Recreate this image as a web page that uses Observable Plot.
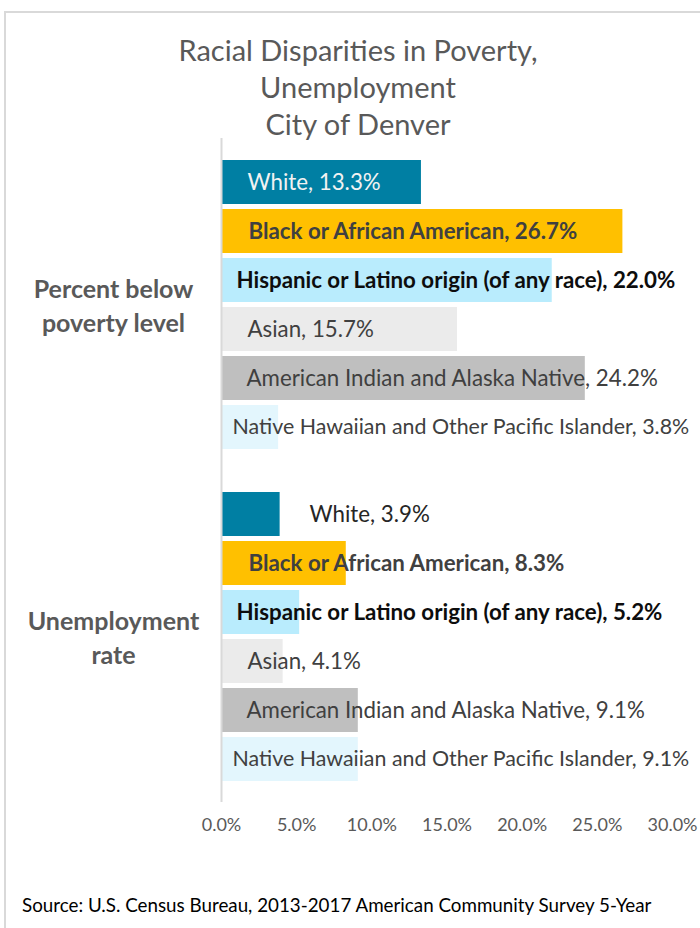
<!DOCTYPE html>
<html><head><meta charset="utf-8">
<script src="https://cdn.jsdelivr.net/npm/d3@7"></script>
<script src="https://cdn.jsdelivr.net/npm/@observablehq/plot@0.6"></script>
<style>
body{margin:0;background:#fff;font-family:Lato, sans-serif;}
#frame{position:absolute;left:4px;top:11px;width:800px;height:1000px;border-left:2px solid #d9d9d9;border-top:2px solid #d9d9d9;}
#title{position:absolute;left:0;width:716px;top:31px;text-align:center;font-size:29px;line-height:37px;color:#595959;}
#chart{position:absolute;left:0;top:138px;}
#source{position:absolute;left:22px;top:893px;font-size:18.8px;color:#000;white-space:nowrap;}
</style></head>
<body>
<div id="frame"></div>
<div id="title">Racial Disparities in Poverty,<br>Unemployment<br>City of Denver</div>
<div id="chart"></div>
<div id="source">Source: U.S. Census Bureau, 2013-2017 American Community Survey 5-Year</div>
<script>
const groups = ["Percent below poverty level", "Unemployment rate"];
const groupLabels = ["Percent below\npoverty level", "Unemployment\nrate"];
const races = ["White", "Black or African American", "Hispanic or Latino origin (of any race)", "Asian", "American Indian and Alaska Native", "Native Hawaiian and Other Pacific Islander"];
const povertyValues = [13.3, 26.7, 22.0, 15.7, 24.2, 3.8];
const unemploymentValues = [3.9, 8.3, 5.2, 4.1, 9.1, 9.1];
const xTicks = [0, 5, 10, 15, 20, 25, 30];

const barColors = ["#007fa3", "#ffc000", "#b9ecfd", "#ebebeb", "#bfbfbf", "#e3f6fd"];
const labelColors = ["#f2f2f2", "#404040", "#0d0d0d", "#404040", "#404040", "#404040"];
const boldLabel = [false, true, true, false, false, false];
const labelDx = [26, 27, 15, 26, 25, 11];
const labelSize = [22.3, 22.3, 22.3, 22.3, 22.3, 21.4];

const seriesValues = [povertyValues, unemploymentValues];
const rows = [];
groups.forEach((g, gi) => races.forEach((r, i) => rows.push({group: g, gi, race: r, i, value: seriesValues[gi][i]})));

const labelMarks = rows.map(d => Plot.text([d], {
  x: 0, y: "race", fy: "group",
  text: d => `${d.race}, ${d.value.toFixed(1)}%`,
  textAnchor: "start",
  dx: (d.gi === 1 && d.i === 0) ? 88 : labelDx[d.i],
  fill: (d.gi === 1 && d.i === 0) ? "#262626" : labelColors[d.i],
  fontWeight: boldLabel[d.i] ? "bold" : "normal",
  fontSize: labelSize[d.i]
}));

const chart = Plot.plot({
  width: 700,
  height: 714,
  marginLeft: 221,
  marginRight: 28,
  marginTop: 0,
  marginBottom: 50,
  style: {fontFamily: "Lato, sans-serif", overflow: "visible", background: "transparent"},
  x: {domain: [0, 30], axis: null, label: null},
  y: {domain: races, axis: null, paddingInner: 0.11, paddingOuter: 0.415},
  fy: {domain: groups, axis: null, padding: 0},
  marks: [
    Plot.barX(rows, {x: "value", y: "race", fy: "group", fill: d => barColors[d.i]}),
    Plot.ruleX([0], {stroke: "#d9d9d9", strokeWidth: 2}),
    ...labelMarks,
    Plot.text(groups, {fy: d => d, text: d => groupLabels[groups.indexOf(d)], frameAnchor: "left", dx: -108, textAnchor: "middle", fontWeight: "bold", fill: "#595959", fontSize: 25, lineHeight: 1.36}),
    Plot.axisX({ticks: xTicks, tickSize: 0, tickPadding: 16, tickFormat: d => d.toFixed(1) + "%", fontSize: 18, fill: "#595959", anchor: "bottom", label: null})
  ],
  color: {type: "identity"}
});
document.getElementById("chart").appendChild(chart);
</script>
</body></html>
